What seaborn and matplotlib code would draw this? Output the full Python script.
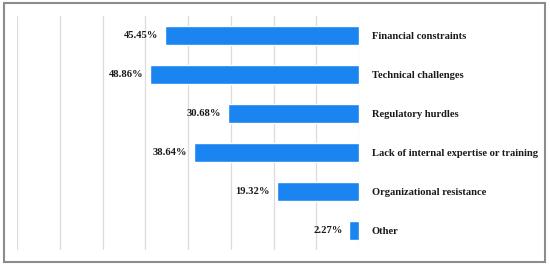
import matplotlib
matplotlib.use("Agg")
import matplotlib.pyplot as plt
import seaborn as sns
from matplotlib.patches import Rectangle

categories = [
    "Financial constraints",
    "Technical challenges",
    "Regulatory hurdles",
    "Lack of internal expertise or training",
    "Organizational resistance",
    "Other",
]
values = [45.45, 48.86, 30.68, 38.64, 19.32, 2.27]
grid_ticks = [0, 10, 20, 30, 40, 50, 60, 70, 80]

BAR_COLOR = "#1a84f0"
FONT = ["Liberation Serif", "DejaVu Serif"]

sns.set_style("white")
plt.rcParams["font.family"] = FONT

fig = plt.figure(figsize=(5.5, 2.67), dpi=100)
ax = fig.add_axes([0.031, 0.064, 0.622, 0.876])

sns.barplot(x=values, y=categories, orient="h", color=BAR_COLOR,
            width=0.5, saturation=1, ax=ax)

ax.set_xlim(80, 0)
ax.set_xticks(grid_ticks)
ax.set_xticklabels([])
ax.tick_params(axis="x", length=0)
ax.grid(axis="x", color="#dcdcdc", linewidth=0.9)
ax.grid(axis="y", visible=False)
ax.set_axisbelow(True)

ax.yaxis.tick_right()
ax.tick_params(axis="y", length=0, pad=9)
for lab in ax.get_yticklabels():
    lab.set_fontweight("bold")
    lab.set_fontsize(7.6)
    lab.set_color("#1a1a1a")
ax.set_xlabel("")
ax.set_ylabel("")

for sp in ax.spines.values():
    sp.set_visible(False)

for i, v in enumerate(values):
    ax.annotate(f"{v:.2f}%", xy=(v, i), xytext=(-5, 0),
                textcoords="offset points", ha="right", va="center",
                fontsize=7.6, fontweight="bold", color="#1a1a1a")

fig.patches.append(Rectangle((0.008, 0.018), 0.983, 0.97,
                             transform=fig.transFigure, fill=False,
                             edgecolor="#8c8c8c", linewidth=1.5))

fig.savefig("out.png", dpi=100)
